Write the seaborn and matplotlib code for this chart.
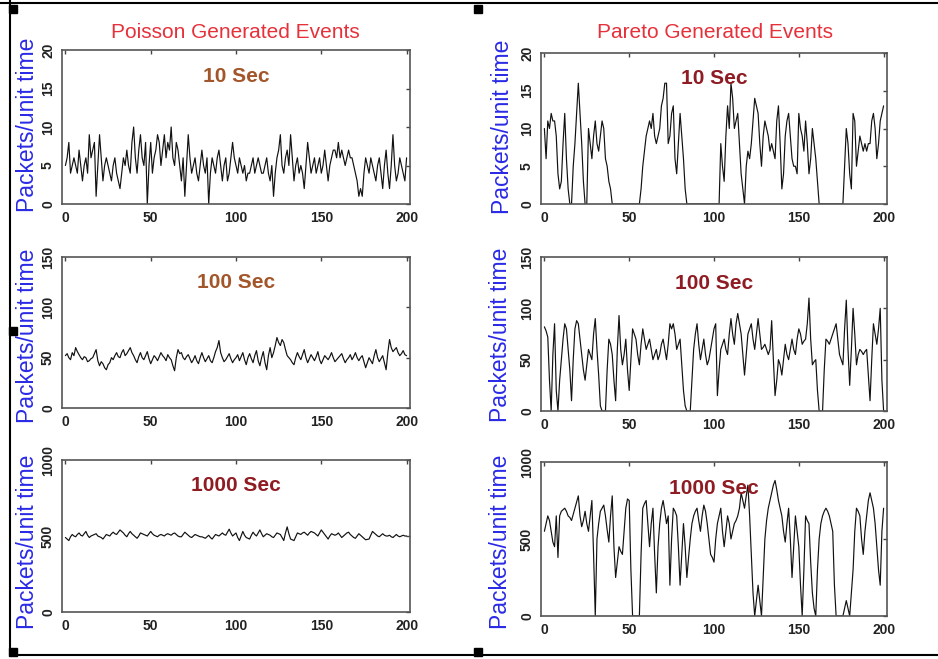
import numpy as np
import pandas as pd
import matplotlib
matplotlib.use("Agg")
import matplotlib.pyplot as plt
from matplotlib.patches import Rectangle
from matplotlib.lines import Line2D
import seaborn as sns

sns.set_style("white")
plt.rcParams['font.family'] = ['Liberation Sans', 'DejaVu Sans']

# ---------------- data ----------------
time_steps = list(range(0, 201))

poisson_10 = [5, 6, 8, 4, 5, 6, 5, 4, 7, 5,
              3, 5, 6, 4, 9, 6, 7, 8, 1, 5,
              9, 6, 3, 5, 6, 5, 4, 3, 5, 6,
              4, 3, 2, 4, 6, 5, 7, 5, 4, 8,
              10, 6, 4, 7, 9, 6, 5, 8, 0, 5,
              8, 4, 6, 7, 9, 8, 5, 7, 9, 6,
              8, 7, 10, 6, 5, 8, 7, 5, 3, 6,
              1, 5, 9, 6, 4, 5, 6, 4, 3, 5,
              7, 5, 4, 6, 0, 4, 6, 5, 4, 6,
              7, 5, 3, 5, 6, 3, 4, 6, 8, 6,
              5, 4, 6, 5, 4, 5, 3, 4, 4, 5,
              6, 4, 5, 6, 5, 4, 4, 5, 6, 4,
              3, 5, 1, 4, 6, 7, 9, 5, 4, 6,
              7, 5, 9, 6, 3, 5, 6, 4, 5, 4,
              2, 5, 8, 6, 4, 5, 6, 4, 5, 6,
              4, 5, 7, 5, 3, 5, 6, 7, 7, 6,
              8, 6, 7, 6, 5, 6, 7, 6, 6, 5,
              4, 3, 1, 2, 1, 4, 6, 5, 4, 6,
              5, 4, 3, 5, 6, 4, 2, 5, 7, 4,
              2, 5, 9, 5, 3, 4, 6, 5, 4, 3,
              6]

poisson_100 = [52, 54, 50, 48, 55, 52, 60, 56, 53, 50,
               48, 51, 50, 46, 47, 49, 50, 54, 58, 47,
               42, 46, 44, 40, 38, 43, 45, 50, 48, 52,
               55, 51, 50, 55, 58, 52, 54, 57, 60, 55,
               52, 48, 45, 51, 55, 50, 48, 52, 56, 49,
               44, 48, 52, 50, 47, 51, 55, 52, 50, 47,
               53, 50, 48, 42, 37, 50, 58, 54, 55, 50,
               48, 51, 53, 49, 45, 48, 52, 47, 44, 50,
               55, 50, 46, 49, 52, 47, 45, 50, 56, 60,
               67, 55, 50, 46, 48, 51, 54, 49, 45, 48,
               50, 53, 47, 51, 55, 48, 43, 50, 54, 49,
               45, 52, 57, 47, 42, 50, 56, 45, 38, 52,
               60, 50, 55, 62, 70, 65, 62, 68, 65, 58,
               52, 50, 48, 45, 43, 50, 55, 51, 48, 53,
               58, 50, 45, 49, 53, 50, 47, 51, 56, 48,
               44, 48, 52, 50, 48, 51, 55, 50, 46, 48,
               50, 52, 54, 49, 45, 48, 50, 53, 48, 51,
               55, 50, 47, 50, 52, 46, 40, 45, 50, 47,
               44, 52, 58, 50, 46, 49, 52, 45, 38, 55,
               68, 60, 56, 58, 60, 55, 52, 54, 57, 53,
               52]

poisson_1000 = [490, 480, 470, 495, 510, 500, 495, 510, 520, 505,
                500, 515, 530, 505, 490, 500, 505, 510, 515, 500,
                495, 490, 480, 495, 510, 505, 500, 515, 525, 515,
                510, 525, 540, 530, 520, 505, 495, 515, 530, 515,
                505, 495, 485, 500, 520, 515, 510, 505, 500, 515,
                530, 515, 505, 500, 495, 505, 510, 505, 500, 510,
                515, 510, 505, 515, 520, 510, 500, 495, 495, 510,
                525, 515, 505, 495, 490, 500, 510, 505, 500, 495,
                495, 490, 485, 495, 505, 490, 480, 495, 510, 505,
                500, 510, 520, 510, 505, 525, 545, 520, 500, 510,
                520, 490, 470, 500, 530, 505, 490, 485, 480, 505,
                525, 510, 500, 520, 540, 515, 495, 505, 515, 510,
                505, 495, 490, 505, 520, 515, 510, 490, 470, 520,
                560, 515, 480, 475, 470, 495, 520, 515, 510, 520,
                525, 515, 505, 520, 530, 525, 520, 510, 500, 520,
                540, 525, 510, 495, 480, 500, 515, 510, 505, 510,
                520, 505, 490, 500, 510, 520, 525, 510, 500, 490,
                485, 500, 515, 505, 495, 485, 475, 478, 480, 505,
                530, 520, 510, 500, 495, 505, 515, 505, 500, 500,
                505, 495, 490, 500, 510, 500, 495, 500, 505, 500,
                500]

pareto_10 = [10, 6, 11, 10, 12, 11, 11, 9, 4, 2,
             3, 8, 12, 6, 2, 0, 0, 5, 8, 12,
             16, 12, 8, 3, 0, 0, 10, 8, 6, 9,
             11, 8, 7, 9, 11, 10, 6, 5, 3, 2,
             0, 0, 0, 0, 0, 0, 0, 0, 0, 0,
             0, 0, 0, 0, 0, 0, 0, 2, 5, 7,
             9, 10, 11, 10, 12, 9, 8, 9, 10, 13,
             14, 16, 16, 8, 9, 12, 13, 6, 4, 8,
             12, 9, 6, 2, 0, 0, 0, 0, 0, 0,
             0, 0, 0, 0, 0, 0, 0, 0, 0, 0,
             0, 0, 0, 0, 8, 5, 3, 9, 13, 10,
             16, 14, 10, 11, 12, 8, 4, 2, 0, 5,
             7, 6, 8, 11, 14, 13, 12, 8, 5, 9,
             11, 10, 9, 7, 8, 7, 6, 11, 13, 8,
             2, 4, 9, 11, 12, 9, 6, 5, 5, 4,
             12, 10, 9, 7, 11, 8, 4, 6, 10, 8,
             6, 3, 0, 0, 0, 0, 0, 0, 0, 0,
             0, 0, 0, 0, 0, 0, 0, 5, 10, 8,
             4, 2, 12, 11, 5, 7, 9, 8, 7, 8,
             7, 8, 8, 11, 12, 10, 6, 8, 11, 12,
             13]

pareto_100 = [82, 78, 72, 30, 0, 55, 85, 20, 0, 30,
              50, 70, 85, 80, 60, 40, 10, 50, 80, 88,
              85, 70, 55, 40, 30, 45, 60, 55, 50, 75,
              90, 60, 35, 5, 0, 0, 0, 40, 70, 65,
              55, 30, 10, 60, 93, 60, 45, 55, 70, 40,
              20, 50, 80, 75, 70, 55, 45, 65, 80, 70,
              60, 65, 70, 60, 50, 55, 60, 50, 55, 65,
              70, 60, 50, 65, 85, 80, 85, 75, 60, 65,
              70, 45, 20, 5, 0, 0, 0, 30, 60, 75,
              85, 65, 50, 60, 70, 55, 45, 50, 60, 70,
              80, 85, 15, 40, 60, 65, 70, 60, 55, 75,
              90, 75, 65, 85, 95, 85, 75, 55, 35, 55,
              75, 80, 85, 70, 60, 75, 90, 75, 60, 62,
              65, 60, 55, 60, 88, 50, 15, 30, 50, 45,
              35, 50, 65, 55, 50, 60, 70, 60, 55, 70,
              80, 75, 65, 68, 70, 85, 110, 70, 45, 48,
              50, 20, 0, 0, 0, 40, 70, 68, 65, 70,
              75, 80, 85, 70, 55, 50, 45, 80, 108, 60,
              25, 60, 100, 75, 45, 55, 60, 58, 55, 58,
              60, 35, 10, 50, 85, 75, 65, 80, 100, 30,
              0]

pareto_1000 = [550, 600, 650, 620, 550, 480, 450, 650, 380, 650,
               680, 690, 700, 680, 650, 640, 620, 660, 700, 740,
               780, 650, 580, 620, 680, 600, 550, 650, 750, 400,
               0, 500, 600, 680, 700, 720, 650, 560, 480, 650,
               780, 450, 250, 350, 450, 420, 400, 550, 700, 760,
               750, 300, 0, 0, 0, 0, 0, 400, 700, 730,
               750, 600, 450, 600, 700, 400, 150, 450, 600, 700,
               750, 680, 600, 650, 200, 500, 700, 680, 650, 450,
               200, 400, 600, 450, 250, 380, 500, 600, 650, 680,
               700, 620, 550, 650, 720, 680, 600, 500, 400, 380,
               350, 500, 600, 650, 700, 550, 450, 550, 650, 600,
               500, 550, 600, 620, 650, 700, 800, 750, 700, 780,
               850, 650, 400, 150, 0, 100, 200, 100, 0, 250,
               500, 620, 700, 750, 800, 850, 880, 820, 750, 700,
               650, 550, 480, 600, 700, 500, 250, 450, 650, 550,
               450, 200, 0, 300, 650, 620, 600, 350, 150, 50,
               0, 300, 500, 600, 650, 680, 700, 680, 650, 600,
               550, 200, 0, 0, 0, 0, 0, 50, 100, 50,
               0, 150, 300, 550, 700, 680, 650, 500, 400, 550,
               650, 750, 800, 750, 700, 600, 450, 300, 200, 550,
               700]

column_titles = ["Poisson Generated Events", "Pareto Generated Events"]
panel_labels = ["10 Sec", "100 Sec", "1000 Sec"]
y_ticks = [[0, 5, 10, 15, 20], [0, 50, 100, 150], [0, 500, 1000]]
x_ticks = [0, 50, 100, 150, 200]

# ---------------- figure ----------------
W, H = 938, 659
fig = plt.figure(figsize=(W / 100, H / 100), dpi=100)
fig.patch.set_facecolor("white")

def add_ax(x0, x1, y0, y1):
    return fig.add_axes([x0 / W, 1 - y1 / H, (x1 - x0) / W, (y1 - y0) / H])

boxes = {
    0: [(62, 410, 50, 204), (62, 410, 257, 408), (62, 410, 460, 612)],
    1: [(541, 887, 53, 204), (541, 887, 257, 411), (541, 887, 462, 616)],
}
series = {0: [poisson_10, poisson_100, poisson_1000],
          1: [pareto_10, pareto_100, pareto_1000]}
label_colors = {0: ["#a3562a", "#a3562a", "#8e1c22"],
                1: ["#8e1c22", "#8e1c22", "#8e1c22"]}
ylabel_pos = {0: [(27, 125), (27, 336), (27, 542)],
              1: [(502, 127), (500, 335), (500, 542)]}

for col in (0, 1):
    for row in range(3):
        ax = add_ax(*boxes[col][row])
        df = pd.DataFrame({"t": time_steps, "v": series[col][row]})
        sns.lineplot(data=df, x="t", y="v", ax=ax, color="#111111",
                     linewidth=0.85, estimator=None)
        ax.set_xlim(-2, 202)
        yt = y_ticks[row]
        ax.set_ylim(yt[0], yt[-1])
        ax.set_xticks(x_ticks)
        ax.set_yticks(yt)
        ax.set_xticklabels([str(v) for v in x_ticks], fontsize=10,
                           fontweight="bold", color="#222222")
        ax.set_yticklabels([str(v) for v in yt], fontsize=10,
                           fontweight="bold", color="#222222", rotation=90,
                           va="center")
        ax.set_xlabel("")
        ax.set_ylabel("")
        ax.tick_params(direction="in", length=3, width=1, top=True,
                       right=True, colors="#444444", labelcolor="#222222",
                       pad=5)
        for s in ax.spines.values():
            s.set_color("#555555")
            s.set_linewidth(1.2)
        ax.text(0.5, 0.83, panel_labels[row], transform=ax.transAxes,
                ha="center", va="center", fontsize=15, fontweight="bold",
                color=label_colors[col][row])
        px, py = ylabel_pos[col][row]
        fig.text(px / W, 1 - py / H, "Packets/unit time", rotation=90,
                 ha="center", va="center", fontsize=16.5, color="#2a2ae6")

fig.text(235 / W, 1 - 33 / H, column_titles[0], ha="center", va="center",
         fontsize=15, color="#e6303a")
fig.text(715 / W, 1 - 33 / H, column_titles[1], ha="center", va="center",
         fontsize=15, color="#e6303a")

# frame lines
for (xa, ya) in [((0, 1), (1 - 3 / H, 1 - 3 / H)),
                 ((10 / W, 1), (1 - 655 / H, 1 - 655 / H)),
                 ((10 / W, 10 / W), (1 - 655 / H, 1))]:
    fig.add_artist(Line2D(xa, ya, color="black", linewidth=1.5,
                          transform=fig.transFigure))

# selection handles
for (cx, cy) in [(13, 9), (478, 9), (13, 331), (13, 652), (478, 652)]:
    fig.add_artist(Rectangle(((cx - 4) / W, 1 - (cy + 4) / H), 8 / W, 8 / H,
                             color="black", transform=fig.transFigure))

fig.savefig("out.png", dpi=100)
